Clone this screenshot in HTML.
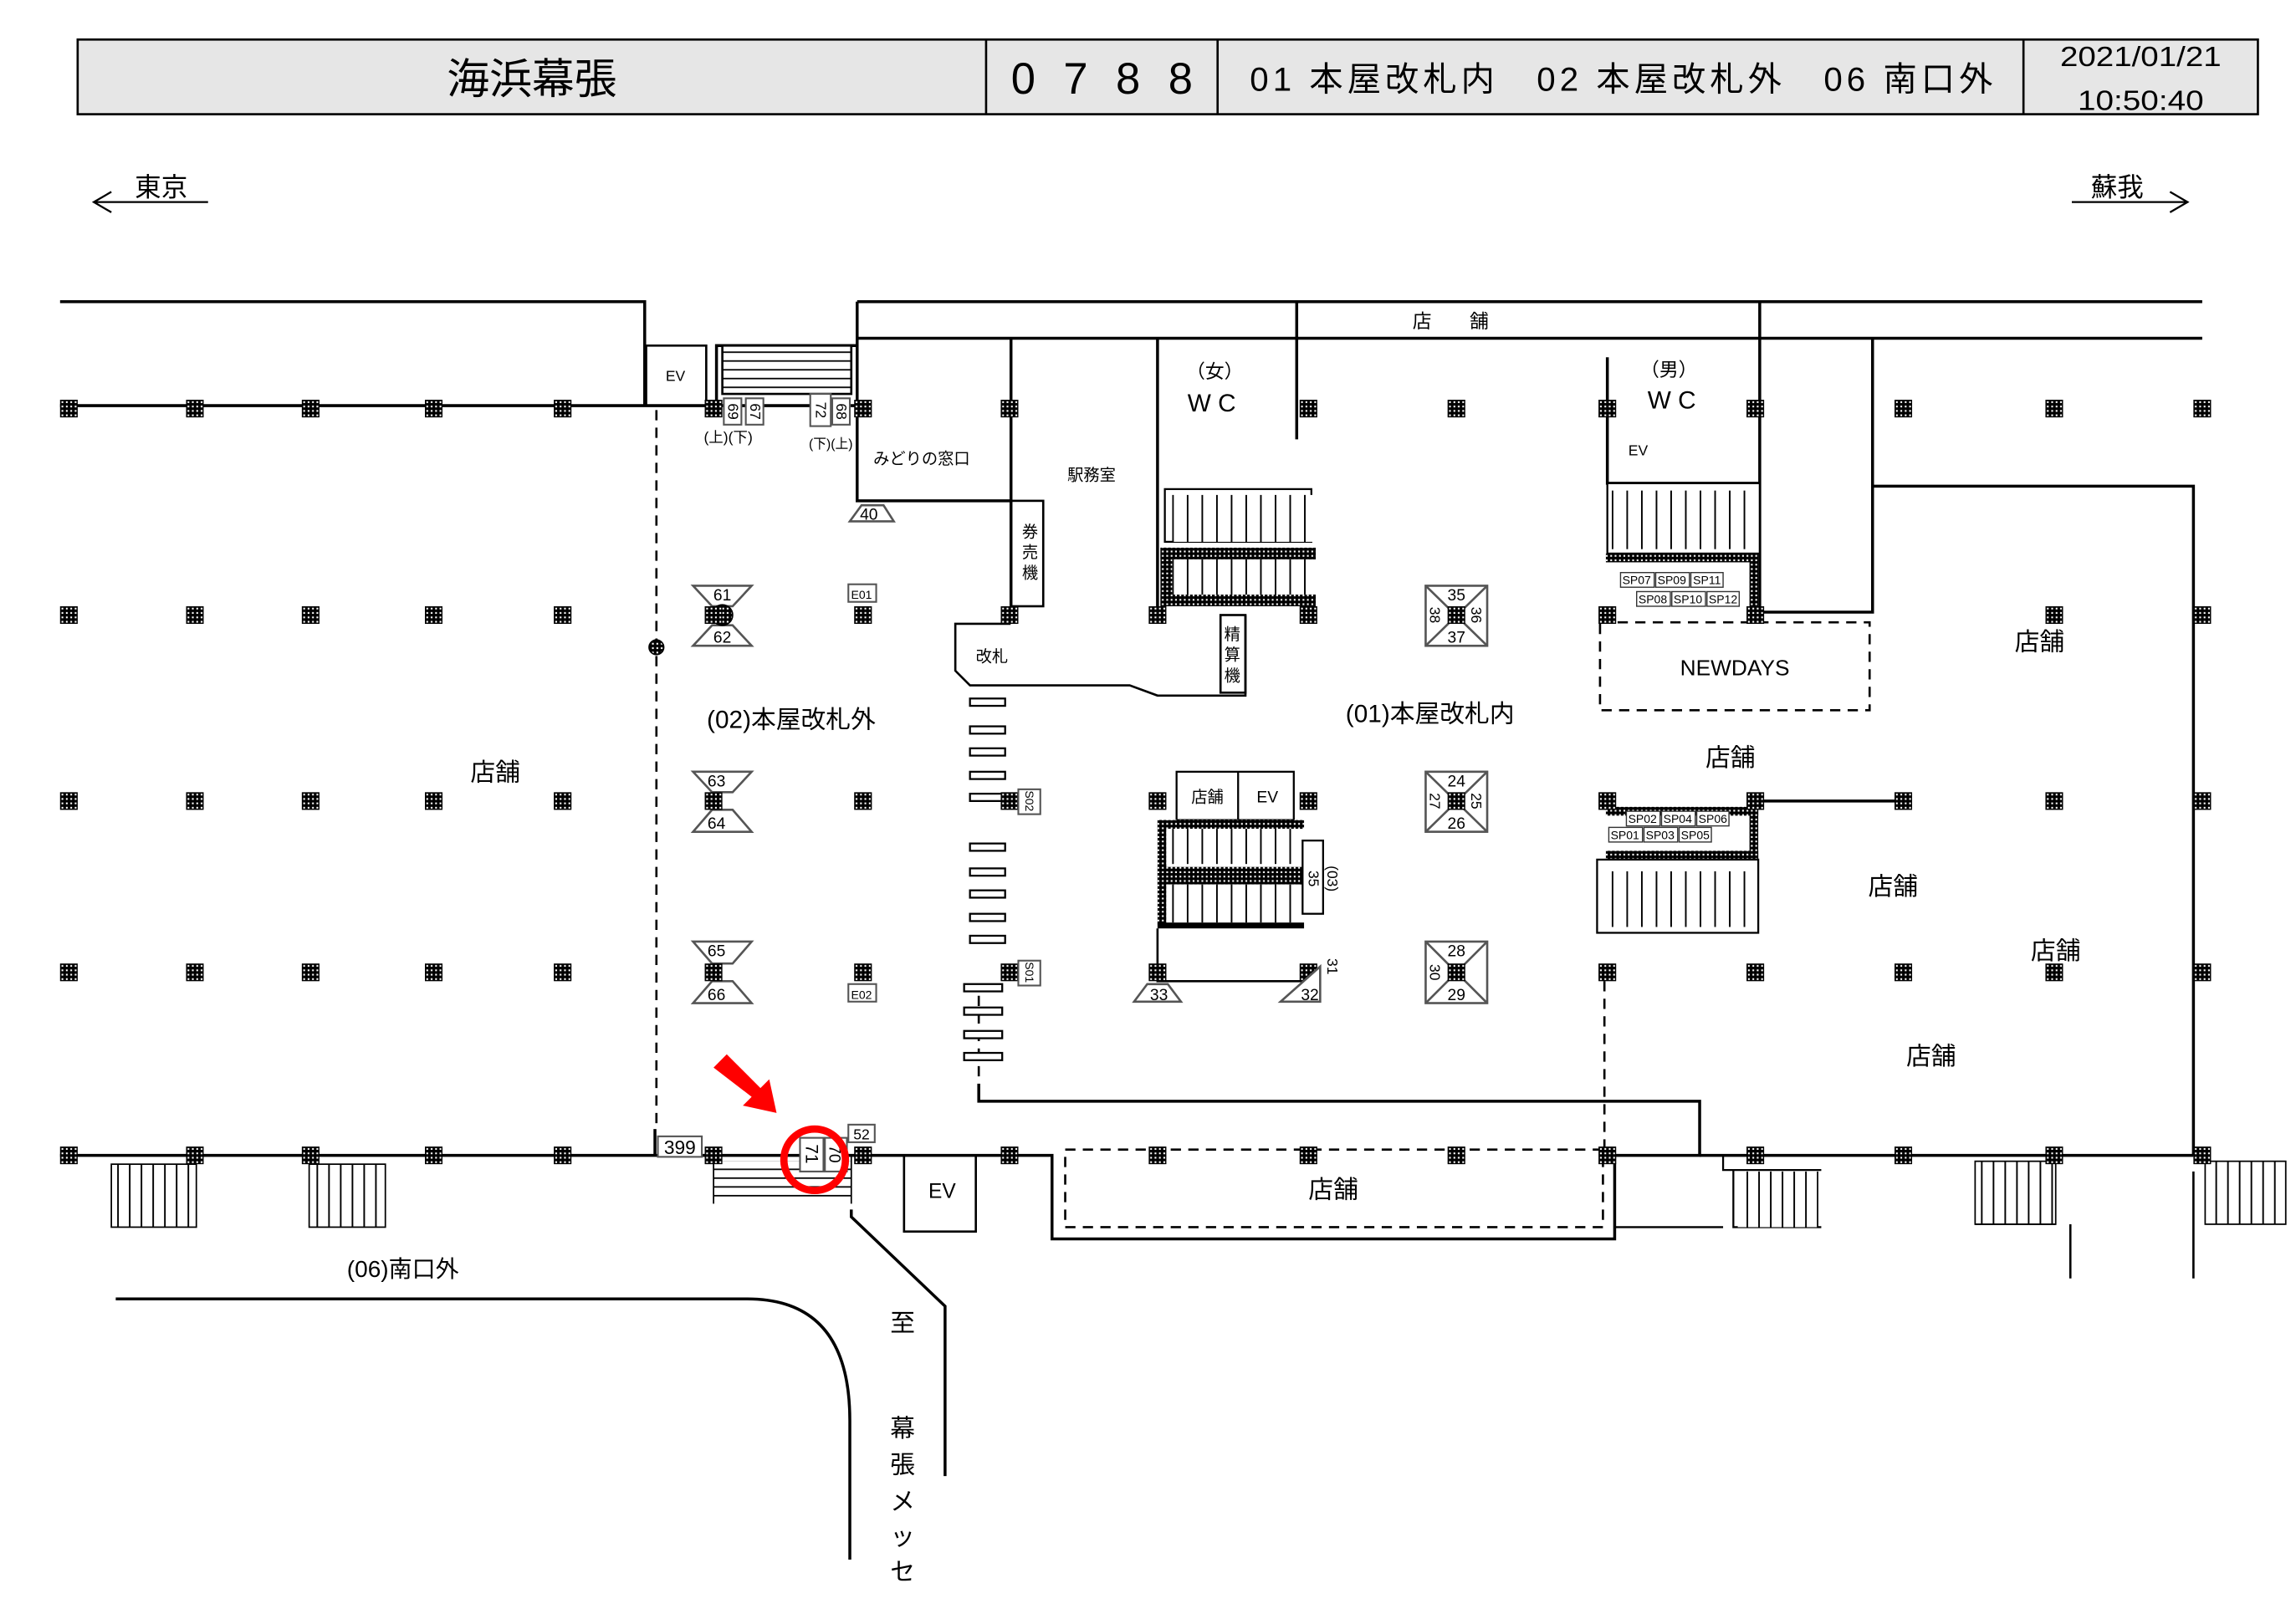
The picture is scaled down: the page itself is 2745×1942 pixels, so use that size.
<!DOCTYPE html>
<html><head><meta charset="utf-8"><style>
html,body{margin:0;padding:0;background:#fff;}
svg{display:block;}
text{font-family:"Liberation Sans","Noto Sans CJK JP",sans-serif;fill:#000;}
</style></head><body>
<svg width="2745" height="1942" viewBox="0 0 1567 1109" preserveAspectRatio="none" xmlns="http://www.w3.org/2000/svg">
<defs>
<pattern id="dots" width="3" height="3" patternUnits="userSpaceOnUse"><rect width="3" height="3" fill="#000"/><rect x="1" y="1" width="1.2" height="1.2" fill="#fff"/></pattern>
<symbol id="p" viewBox="0 0 12 12"><rect width="12" height="12" fill="url(#dots)" stroke="#000" stroke-width="1"/></symbol>
<pattern id="vst" width="10" height="10" patternUnits="userSpaceOnUse"><rect width="10" height="10" fill="#fff"/><line x1="0.5" y1="0" x2="0.5" y2="10" stroke="#000" stroke-width="1.2"/></pattern>
<pattern id="vst2" width="8" height="10" patternUnits="userSpaceOnUse"><rect width="8" height="10" fill="#fff"/><line x1="0.5" y1="0" x2="0.5" y2="10" stroke="#000" stroke-width="1.2"/></pattern>
<pattern id="hst" width="10" height="6" patternUnits="userSpaceOnUse"><rect width="10" height="6" fill="#fff"/><line x1="0" y1="0.5" x2="10" y2="0.5" stroke="#000" stroke-width="1"/></pattern>
</defs>

<!-- header -->
<rect x="53" y="27" width="1488" height="51" fill="#e6e6e6" stroke="#000" stroke-width="1.5"/>
<line x1="673" y1="27" x2="673" y2="78" stroke="#000" stroke-width="1.5"/>
<line x1="831" y1="27" x2="831" y2="78" stroke="#000" stroke-width="1.5"/>
<line x1="1381" y1="27" x2="1381" y2="78" stroke="#000" stroke-width="1.5"/>
<text x="363" y="64" font-size="29" text-anchor="middle">海浜幕張</text>
<text x="690" y="64" font-size="30" textLength="124" lengthAdjust="spacing">0788</text>
<text x="853" y="62" font-size="23" textLength="507" lengthAdjust="spacing">01 本屋改札内　02 本屋改札外　06 南口外</text>
<text x="1406" y="45" font-size="19" textLength="110" lengthAdjust="spacingAndGlyphs">2021/01/21</text>
<text x="1418" y="75" font-size="19" textLength="86" lengthAdjust="spacingAndGlyphs">10:50:40</text>

<!-- direction -->
<g stroke="#000" stroke-width="1.3" fill="none">
<path d="M142 138H64M76 131L64 138L76 145"/>
<path d="M1414 138H1493M1481 131L1493 138L1481 145"/>
</g>
<text x="110" y="134" font-size="18" text-anchor="middle">東京</text>
<text x="1445" y="134" font-size="18" text-anchor="middle">蘇我</text>

<g stroke="#000" stroke-width="2" fill="none">
<path d="M41 206H440V277"/>
<path d="M41 277H590"/>
<rect x="441" y="236" width="41" height="41" stroke-width="1.5"/>
<path d="M489 277V236H585"/>
<path d="M585 206H1503M585 231H1503"/>
<path d="M585 206V342H690V231"/>
<path d="M885 206V300M1201 206V418M1278 231V418H1201"/>
<path d="M690 342V420M790 231V420"/>
<path d="M1278 332H1497V789"/>
<path d="M1097 244V330H1201"/>
<rect x="690" y="342" width="22" height="72" stroke-width="1.5"/>
<rect x="833" y="420" width="17" height="53" stroke-width="1.5"/>
<path d="M689 420V426H652V458L662 468H771L790 475H850V420" stroke-width="1.5"/>
<path d="M41 789H447V771M447 789H718V846H1102V789H1160V752H668V740"/>
<path d="M1160 789H1497"/>
<path d="M581 826V831L645 892V1008"/>
<path d="M79 887H510Q580 887 580 970V1065"/>
<path d="M1176 789V799H1243M1183 799V838H1243" stroke-width="1.3"/>
<path d="M1413 836V873M1497 800V873" stroke-width="1.5"/>
<path d="M1176 838H1102" stroke-width="1.3"/>
<rect x="617" y="789" width="49" height="52" stroke-width="1.5"/>
</g>
<g stroke="#000" stroke-width="1.5" fill="none" stroke-dasharray="7,5">
<path d="M448 280V771"/>
<path d="M668 680V740"/>
<path d="M1095 670V789"/>
<rect x="727" y="785" width="367" height="53"/>
<rect x="1092" y="425" width="184" height="60"/>
<path d="M1102 789H1160" stroke-dasharray="4,3"/>
</g>
<circle cx="448" cy="442" r="5" fill="url(#dots)" stroke="#000"/>

<rect x="493" y="236" width="88" height="33" fill="url(#hst)" stroke="#000" stroke-width="1.5"/>
<rect x="487" y="793" width="94" height="27" fill="url(#hst)" stroke="none"/>
<line x1="487" y1="789" x2="487" y2="822" stroke="#000"/>
<line x1="581" y1="789" x2="581" y2="822" stroke="#000"/>

<rect x="76" y="795" width="58" height="43" fill="url(#vst2)" stroke="#000" stroke-width="1"/>
<rect x="211" y="795" width="52" height="43" fill="url(#vst2)" stroke="#000" stroke-width="1"/>
<rect x="1186" y="800" width="55" height="38" fill="url(#vst2)" stroke="none"/>
<rect x="1348" y="793" width="55" height="43" fill="url(#vst2)" stroke="#000" stroke-width="1"/>
<rect x="1505" y="793" width="55" height="43" fill="url(#vst2)" stroke="#000" stroke-width="1"/>
<line x1="1348" y1="836" x2="1403" y2="836" stroke="#000"/>

<rect x="795" y="334" width="100" height="36" fill="#fff" stroke="#000" stroke-width="1.3"/>
<rect x="800" y="338" width="97" height="32" fill="url(#vst)"/>
<rect x="792" y="374" width="106" height="8" fill="url(#dots)"/>
<rect x="792" y="406" width="106" height="8" fill="url(#dots)"/>
<rect x="792" y="374" width="8" height="40" fill="url(#dots)"/>
<rect x="800" y="382" width="93" height="24" fill="url(#vst)"/>
<rect x="1097" y="330" width="104" height="48" fill="#fff" stroke="#000" stroke-width="1.3"/>
<rect x="1100" y="335" width="92" height="40" fill="url(#vst)"/>
<rect x="1096" y="378" width="104" height="6" fill="url(#dots)"/>
<rect x="1194" y="378" width="6" height="40" fill="url(#dots)"/>
<rect x="803" y="527" width="80" height="33" fill="#fff" stroke="#000" stroke-width="1.3"/>
<line x1="845" y1="527" x2="845" y2="560" stroke="#000" stroke-width="1.3"/>
<rect x="790" y="560" width="100" height="6" fill="url(#dots)"/>
<rect x="790" y="560" width="6" height="72" fill="url(#dots)"/>
<rect x="796" y="566" width="90" height="24" fill="url(#vst)"/>
<rect x="790" y="592" width="100" height="12" fill="url(#dots)"/>
<rect x="796" y="604" width="90" height="26" fill="url(#vst)"/>
<rect x="790" y="630" width="100" height="4" fill="#000"/>
<path d="M790 634V670H893" stroke="#000" stroke-width="1.5" fill="none"/>
<rect x="889" y="574" width="14" height="50" fill="#fff" stroke="#000" stroke-width="1.3"/>
<rect x="1096" y="551" width="104" height="6" fill="url(#dots)"/>
<rect x="1096" y="581" width="104" height="6" fill="url(#dots)"/>
<rect x="1194" y="551" width="6" height="36" fill="url(#dots)"/>
<rect x="1090" y="587" width="110" height="50" fill="#fff" stroke="#000" stroke-width="1.3"/>
<rect x="1098" y="595" width="94" height="38" fill="url(#vst)"/>
<path d="M1198 547H1299" stroke="#000" stroke-width="2"/>

<g fill="#fff" stroke="#000" stroke-width="1.3">
<rect x="662" y="477" width="24" height="5"/><rect x="662" y="496" width="24" height="5"/><rect x="662" y="511" width="24" height="5"/><rect x="662" y="527" width="24" height="5"/><rect x="662" y="542" width="24" height="5"/>
<rect x="662" y="576" width="24" height="5"/><rect x="662" y="593" width="24" height="5"/><rect x="662" y="608" width="24" height="5"/><rect x="662" y="624" width="24" height="5"/><rect x="662" y="639" width="24" height="5"/>
<rect x="658" y="672" width="26" height="5"/><rect x="658" y="688" width="26" height="5"/><rect x="658" y="704" width="26" height="5"/><rect x="658" y="719" width="26" height="5"/>
</g>

<g>
<use href="#p" x="41" y="273" width="12" height="12"/><use href="#p" x="127" y="273" width="12" height="12"/><use href="#p" x="206" y="273" width="12" height="12"/><use href="#p" x="290" y="273" width="12" height="12"/><use href="#p" x="378" y="273" width="12" height="12"/><use href="#p" x="481" y="273" width="12" height="12"/><use href="#p" x="583" y="273" width="12" height="12"/><use href="#p" x="683" y="273" width="12" height="12"/><use href="#p" x="887" y="273" width="12" height="12"/><use href="#p" x="988" y="273" width="12" height="12"/><use href="#p" x="1091" y="273" width="12" height="12"/><use href="#p" x="1192" y="273" width="12" height="12"/><use href="#p" x="1293" y="273" width="12" height="12"/><use href="#p" x="1396" y="273" width="12" height="12"/><use href="#p" x="1497" y="273" width="12" height="12"/>

<use href="#p" x="41" y="414" width="12" height="12"/><use href="#p" x="127" y="414" width="12" height="12"/><use href="#p" x="206" y="414" width="12" height="12"/><use href="#p" x="290" y="414" width="12" height="12"/><use href="#p" x="378" y="414" width="12" height="12"/><use href="#p" x="583" y="414" width="12" height="12"/><use href="#p" x="683" y="414" width="12" height="12"/><use href="#p" x="784" y="414" width="12" height="12"/><use href="#p" x="887" y="414" width="12" height="12"/><use href="#p" x="1091" y="414" width="12" height="12"/><use href="#p" x="1192" y="414" width="12" height="12"/><use href="#p" x="1396" y="414" width="12" height="12"/><use href="#p" x="1497" y="414" width="12" height="12"/>

<use href="#p" x="41" y="541" width="12" height="12"/><use href="#p" x="127" y="541" width="12" height="12"/><use href="#p" x="206" y="541" width="12" height="12"/><use href="#p" x="290" y="541" width="12" height="12"/><use href="#p" x="378" y="541" width="12" height="12"/><use href="#p" x="583" y="541" width="12" height="12"/><use href="#p" x="683" y="541" width="12" height="12"/><use href="#p" x="784" y="541" width="12" height="12"/><use href="#p" x="887" y="541" width="12" height="12"/><use href="#p" x="1091" y="541" width="12" height="12"/><use href="#p" x="1192" y="541" width="12" height="12"/><use href="#p" x="1293" y="541" width="12" height="12"/><use href="#p" x="1396" y="541" width="12" height="12"/><use href="#p" x="1497" y="541" width="12" height="12"/>

<use href="#p" x="41" y="658" width="12" height="12"/><use href="#p" x="127" y="658" width="12" height="12"/><use href="#p" x="206" y="658" width="12" height="12"/><use href="#p" x="290" y="658" width="12" height="12"/><use href="#p" x="378" y="658" width="12" height="12"/><use href="#p" x="583" y="658" width="12" height="12"/><use href="#p" x="683" y="658" width="12" height="12"/><use href="#p" x="784" y="658" width="12" height="12"/><use href="#p" x="887" y="658" width="12" height="12"/><use href="#p" x="1091" y="658" width="12" height="12"/><use href="#p" x="1192" y="658" width="12" height="12"/><use href="#p" x="1293" y="658" width="12" height="12"/><use href="#p" x="1396" y="658" width="12" height="12"/><use href="#p" x="1497" y="658" width="12" height="12"/>

<use href="#p" x="41" y="783" width="12" height="12"/><use href="#p" x="127" y="783" width="12" height="12"/><use href="#p" x="206" y="783" width="12" height="12"/><use href="#p" x="290" y="783" width="12" height="12"/><use href="#p" x="378" y="783" width="12" height="12"/><use href="#p" x="481" y="783" width="12" height="12"/><use href="#p" x="583" y="783" width="12" height="12"/><use href="#p" x="683" y="783" width="12" height="12"/><use href="#p" x="784" y="783" width="12" height="12"/><use href="#p" x="887" y="783" width="12" height="12"/><use href="#p" x="988" y="783" width="12" height="12"/><use href="#p" x="1091" y="783" width="12" height="12"/><use href="#p" x="1192" y="783" width="12" height="12"/><use href="#p" x="1293" y="783" width="12" height="12"/><use href="#p" x="1396" y="783" width="12" height="12"/><use href="#p" x="1497" y="783" width="12" height="12"/>
</g>

<g fill="#fff" stroke="#555" stroke-width="1.5">
<path d="M473 400H513L500 414H486Z"/><path d="M486 427H500L513 441H473Z"/>
<path d="M473 527H513L500 541H486Z"/><path d="M486 553H500L513 568H473Z"/>
<path d="M473 643H513L500 658H486Z"/><path d="M486 670H500L513 685H473Z"/>
<path d="M580 356L588 345H603L610 356Z"/>
<path d="M774 684L783 672H797L806 684Z"/>
<path d="M874 684L901 660V684Z"/>
<rect x="973" y="400" width="42" height="41"/><path d="M973 400L1015 441M1015 400L973 441"/>
<rect x="973" y="527" width="42" height="41"/><path d="M973 527L1015 568M1015 527L973 568"/>
<rect x="973" y="643" width="42" height="42"/><path d="M973 643L1015 685M1015 643L973 685"/>
</g>
<circle cx="493" cy="420" r="7" fill="url(#dots)" stroke="#000"/>
<use href="#p" x="988" y="414" width="12" height="12"/><use href="#p" x="988" y="541" width="12" height="12"/><use href="#p" x="988" y="658" width="12" height="12"/>
<use href="#p" x="481" y="414" width="12" height="12"/><use href="#p" x="481" y="541" width="12" height="12"/><use href="#p" x="481" y="658" width="12" height="12"/>
<g font-size="11" text-anchor="middle">
<text x="493" y="410">61</text><text x="493" y="439">62</text>
<text x="489" y="537">63</text><text x="489" y="566">64</text>
<text x="489" y="653">65</text><text x="489" y="683">66</text>
<text x="593" y="355">40</text><text x="791" y="683">33</text><text x="894" y="683">32</text>
<text x="994" y="410">35</text><text x="994" y="439">37</text>
<text x="994" y="537">24</text><text x="994" y="566">26</text>
<text x="994" y="653">28</text><text x="994" y="683">29</text>
</g>
<g font-size="10" text-anchor="middle">
<text transform="translate(980,420) rotate(90)" y="4">38</text><text transform="translate(1008,420) rotate(90)" y="4">36</text>
<text transform="translate(980,547) rotate(90)" y="4">27</text><text transform="translate(1008,547) rotate(90)" y="4">25</text>
<text transform="translate(980,664) rotate(90)" y="4">30</text><text transform="translate(909,660) rotate(90)" y="3">31</text>
<text transform="translate(896,600) rotate(90)" y="3">35</text><text transform="translate(909,600) rotate(90)" y="3">(03)</text>
</g>

<g fill="#fff" stroke="#555" stroke-width="1.2">
<rect x="579" y="399" width="19" height="12"/><rect x="579" y="672" width="19" height="12"/>
<rect x="695" y="539" width="15" height="17"/><rect x="695" y="656" width="15" height="17"/>
<rect x="494" y="272" width="12" height="18"/><rect x="509" y="272" width="12" height="18"/>
<rect x="553" y="269" width="14" height="22"/><rect x="568" y="272" width="12" height="18"/>
<rect x="449" y="776" width="30" height="14"/><rect x="579" y="768" width="18" height="12"/>
<rect x="546" y="777" width="16" height="23"/><rect x="563" y="777" width="15" height="23"/>
</g>
<g font-size="8" text-anchor="middle">
<text x="588" y="409">E01</text><text x="588" y="682">E02</text>
<text transform="translate(703,547) rotate(90)" y="3">S02</text><text transform="translate(703,664) rotate(90)" y="3">S01</text>
<text transform="translate(500,281) rotate(90)" y="3" font-size="10">69</text><text transform="translate(515,281) rotate(90)" y="3" font-size="10">67</text>
<text transform="translate(560,280) rotate(90)" y="3" font-size="10">72</text><text transform="translate(574,281) rotate(90)" y="3" font-size="10">68</text>
<text transform="translate(554,788) rotate(90)" y="4" font-size="12">71</text><text transform="translate(570,788) rotate(90)" y="4" font-size="11">70</text>
<text x="497" y="302" font-size="10">(上)(下)</text><text x="567" y="306" font-size="9">(下)(上)</text>
</g>
<text x="464" y="788" font-size="13" text-anchor="middle">399</text>
<text x="588" y="778" font-size="10" text-anchor="middle">52</text>

<g fill="#fff" stroke="#333" stroke-width="0.8">
<rect x="1106" y="391" width="23" height="10"/><rect x="1130" y="391" width="23" height="10"/><rect x="1154" y="391" width="22" height="10"/>
<rect x="1117" y="404" width="23" height="10"/><rect x="1141" y="404" width="23" height="10"/><rect x="1165" y="404" width="22" height="10"/>
<rect x="1110" y="554" width="23" height="10"/><rect x="1134" y="554" width="23" height="10"/><rect x="1158" y="554" width="22" height="10"/>
<rect x="1098" y="565" width="23" height="10"/><rect x="1122" y="565" width="23" height="10"/><rect x="1146" y="565" width="22" height="10"/>
</g>
<g font-size="8" text-anchor="middle">
<text x="1117" y="399">SP07</text><text x="1141" y="399">SP09</text><text x="1165" y="399">SP11</text>
<text x="1128" y="412">SP08</text><text x="1152" y="412">SP10</text><text x="1176" y="412">SP12</text>
<text x="1121" y="562">SP02</text><text x="1145" y="562">SP04</text><text x="1169" y="562">SP06</text>
<text x="1109" y="573">SP01</text><text x="1133" y="573">SP03</text><text x="1157" y="573">SP05</text>
</g>

<text x="461" y="260" font-size="10" text-anchor="middle">EV</text>
<text x="1118" y="311" font-size="10" text-anchor="middle">EV</text>
<text x="865" y="548" font-size="11" text-anchor="middle">EV</text>
<text x="824" y="548" font-size="11" text-anchor="middle">店舗</text>
<text x="643" y="818" font-size="14" text-anchor="middle">EV</text>
<text x="990" y="224" font-size="13" text-anchor="middle">店　　舗</text>
<text x="829" y="258" font-size="13" text-anchor="middle">（女）</text>
<text x="827" y="281" font-size="17" text-anchor="middle">W C</text>
<text x="1139" y="257" font-size="13" text-anchor="middle">（男）</text>
<text x="1141" y="279" font-size="17" text-anchor="middle">W C</text>
<text x="629" y="317" font-size="11" text-anchor="middle">みどりの窓口</text>
<text x="745" y="328" font-size="11" text-anchor="middle">駅務室</text>
<text x="677" y="452" font-size="11" text-anchor="middle">改札</text>
<g font-size="11" text-anchor="middle"><text x="703" y="367">券</text><text x="703" y="381">売</text><text x="703" y="395">機</text>
<text x="841" y="437">精</text><text x="841" y="451">算</text><text x="841" y="465">機</text></g>
<text x="540" y="497" font-size="17" text-anchor="middle">(02)本屋改札外</text>
<text x="976" y="493" font-size="17" text-anchor="middle">(01)本屋改札内</text>
<text x="1184" y="461" font-size="15" text-anchor="middle">NEWDAYS</text>
<text x="338" y="533" font-size="17" text-anchor="middle">店舗</text>
<text x="1181" y="523" font-size="17" text-anchor="middle">店舗</text>
<text x="1392" y="444" font-size="17" text-anchor="middle">店舗</text>
<text x="1292" y="611" font-size="17" text-anchor="middle">店舗</text>
<text x="1403" y="655" font-size="17" text-anchor="middle">店舗</text>
<text x="1318" y="727" font-size="17" text-anchor="middle">店舗</text>
<text x="910" y="818" font-size="17" text-anchor="middle">店舗</text>
<text x="275" y="872" font-size="16" text-anchor="middle">(06)南口外</text>
<g font-size="17" text-anchor="middle"><text x="616" y="909">至</text><text x="616" y="981">幕</text><text x="616" y="1006">張</text><text x="616" y="1031">メ</text><text x="616" y="1055">ッ</text><text x="616" y="1079">セ</text></g>

<circle cx="556" cy="792" r="21" fill="none" stroke="#f00" stroke-width="5"/>
<path d="M487 729L496 720L519 743L525 737L530 760L507 755L513 749Z" fill="#f00"/>
</svg>
</body></html>
